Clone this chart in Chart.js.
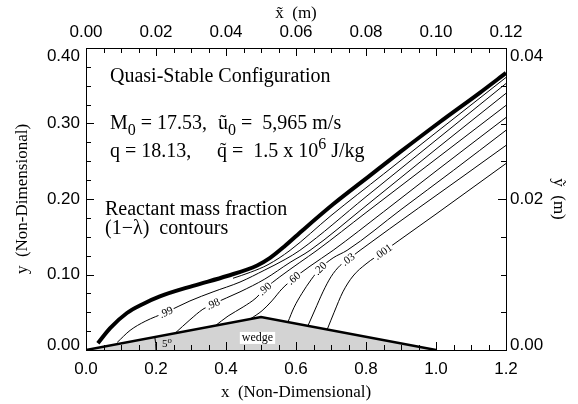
<!DOCTYPE html>
<html>
<head>
<meta charset="utf-8">
<script src="https://cdn.jsdelivr.net/npm/chart.js@4.4.0/dist/chart.umd.min.js"></script>
<style>
  html, body { margin: 0; padding: 0; background: #fff; }
</style>
</head>
<body>
<canvas id="c" width="578" height="404" style="width:578px;height:404px"></canvas>
<script>
// tick labels
const xTickLabels = ['0.0', '0.2', '0.4', '0.6', '0.8', '1.0', '1.2'];
const xTopTickLabels = ['0.00', '0.02', '0.04', '0.06', '0.08', '0.10', '0.12'];
const yTickLabels = ['0.00', '0.10', '0.20', '0.30', '0.40'];
const yRightTickLabels = ['0.00', '0.02', '0.04'];

// wedge (5 deg ramp, peak at x = 0.5)
const wedgeX = [0.0, 0.5, 1.0];
const wedgeY = [0.0, 0.0437, 0.0];

// shock (bunched contours, drawn thick)
const shockX = [0.034, 0.069, 0.117, 0.163, 0.211, 0.306, 0.403, 0.489, 0.526, 0.569, 0.620, 0.706, 0.811, 0.897, 1.011, 1.126, 1.200];
const shockY = [0.009, 0.029, 0.049, 0.061, 0.071, 0.085, 0.098, 0.112, 0.122, 0.138, 0.159, 0.193, 0.231, 0.262, 0.302, 0.341, 0.367];

// reactant mass fraction contours
const c999X = [0.420, 0.470, 0.520, 0.583, 0.700, 0.850, 1.000, 1.200];
const c999Y = [0.095, 0.103, 0.113, 0.132, 0.178, 0.233, 0.288, 0.361];
const c99X = [0.089, 0.126, 0.169, 0.229, 0.297, 0.363, 0.440, 0.511, 0.569, 0.611, 0.800, 1.000, 1.200];
const c99Y = [0.010, 0.026, 0.038, 0.050, 0.065, 0.077, 0.090, 0.106, 0.120, 0.132, 0.203, 0.278, 0.353];
const c98X = [0.254, 0.297, 0.334, 0.363, 0.440, 0.511, 0.583, 0.640, 0.800, 1.000, 1.200];
const c98Y = [0.022, 0.040, 0.054, 0.061, 0.077, 0.094, 0.116, 0.132, 0.191, 0.266, 0.340];
const c90X = [0.369, 0.406, 0.449, 0.486, 0.511, 0.554, 0.611, 0.660, 0.800, 1.000, 1.200];
const c90Y = [0.032, 0.045, 0.057, 0.069, 0.081, 0.097, 0.116, 0.132, 0.182, 0.253, 0.324];
const c60X = [0.469, 0.503, 0.531, 0.560, 0.594, 0.640, 0.706, 0.850, 1.000, 1.200];
const c60Y = [0.041, 0.052, 0.065, 0.081, 0.095, 0.111, 0.132, 0.183, 0.237, 0.308];
const c20X = [0.577, 0.594, 0.617, 0.643, 0.669, 0.706, 0.746, 0.900, 1.050, 1.200];
const c20Y = [0.037, 0.056, 0.075, 0.093, 0.108, 0.122, 0.132, 0.186, 0.238, 0.291];
const c03X = [0.634, 0.654, 0.677, 0.700, 0.726, 0.749, 0.783, 0.950, 1.080, 1.200];
const c03Y = [0.032, 0.053, 0.077, 0.097, 0.112, 0.120, 0.132, 0.188, 0.231, 0.271];
const c001X = [0.689, 0.709, 0.734, 0.763, 0.800, 0.849, 0.897, 1.000, 1.200];
const c001Y = [0.027, 0.050, 0.077, 0.098, 0.114, 0.130, 0.146, 0.180, 0.247];

// contour labels
const levelText = ['.99', '.98', '.90', '.60', '.20', '.03', '.001'];
const levelX = [0.229, 0.363, 0.511, 0.594, 0.669, 0.749, 0.849];
const levelY = [0.050, 0.061, 0.081, 0.095, 0.108, 0.120, 0.130];
const wedgeLabelPos = [0.49, 0.016];

const sans = "'Liberation Sans', Arial, sans-serif";
const serif = "'Liberation Serif', 'Times New Roman', serif";

function pts(xs, ys) {
  return xs.map((x, i) => ({ x: x, y: ys[i] }));
}

function line(xs, ys, w) {
  return {
    data: pts(xs, ys),
    borderColor: '#000',
    borderWidth: w,
    pointRadius: 0,
    fill: false,
    cubicInterpolationMode: 'monotone'
  };
}

const levelLines = [pts(c99X, c99Y), pts(c98X, c98Y), pts(c90X, c90Y), pts(c60X, c60Y),
                    pts(c20X, c20Y), pts(c03X, c03Y), pts(c001X, c001Y)];

// text with sub/superscripts, baseline at y
function rich(ctx, x, y, parts, size) {
  parts.forEach(p => {
    const s = p[1] ? size * 0.8 : size;
    const dy = p[1] === 'sub' ? size * 0.28 : (p[1] === 'sup' ? -size * 0.4 : 0);
    ctx.font = s + 'px ' + serif;
    ctx.fillText(p[0], x, y + dy);
    x += ctx.measureText(p[0]).width;
  });
}

const decor = {
  id: 'decor',
  afterDraw(chart) {
    const ctx = chart.ctx, a = chart.chartArea;
    const xs = chart.scales.x, xt = chart.scales.xTop, ys = chart.scales.y, yr = chart.scales.yRight;
    ctx.save();
    ctx.strokeStyle = '#000';
    ctx.lineWidth = 1;

    // inward ticks, 4 minor intervals per major
    function ticks(scale, step, n, side) {
      ctx.beginPath();
      for (let i = 0; i <= n; i++) {
        const len = i % 4 === 0 ? 8 : 5;
        const p = Math.round(scale.getPixelForValue(scale.min + i * step)) + 0.5;
        if (side === 'bottom') { ctx.moveTo(p, a.bottom); ctx.lineTo(p, a.bottom - len); }
        if (side === 'top') { ctx.moveTo(p, a.top); ctx.lineTo(p, a.top + len); }
        if (side === 'left') { ctx.moveTo(a.left, p); ctx.lineTo(a.left + len, p); }
        if (side === 'right') { ctx.moveTo(a.right, p); ctx.lineTo(a.right - len, p); }
      }
      ctx.stroke();
    }
    ticks(xs, 0.05, 24, 'bottom');
    ticks(xt, 0.005, 24, 'top');
    ticks(ys, 0.025, 16, 'left');
    ticks(yr, 0.005, 8, 'right');

    // y tick labels, kept inside the axis span like the original
    ctx.fillStyle = '#000';
    ctx.font = '17px ' + sans;
    ctx.textBaseline = 'middle';
    ctx.textAlign = 'right';
    yTickLabels.forEach(t => {
      const p = Math.min(Math.max(ys.getPixelForValue(parseFloat(t)), a.top + 8), a.bottom - 5);
      ctx.fillText(t, a.left - 6, p);
    });
    ctx.textAlign = 'left';
    yRightTickLabels.forEach(t => {
      const p = Math.min(Math.max(yr.getPixelForValue(parseFloat(t)), a.top + 8), a.bottom - 5);
      ctx.fillText(t, a.right + 4, p);
    });

    // contour labels along the lines
    ctx.font = '11px ' + serif;
    ctx.textAlign = 'center';
    levelText.forEach((t, i) => {
      const d = levelLines[i];
      let k = 0;
      d.forEach((p, j) => { if (Math.abs(p.x - levelX[i]) < Math.abs(d[k].x - levelX[i])) k = j; });
      const p0 = d[Math.max(k - 1, 0)], p1 = d[Math.min(k + 1, d.length - 1)];
      const ang = Math.atan2(ys.getPixelForValue(p1.y) - ys.getPixelForValue(p0.y),
                             xs.getPixelForValue(p1.x) - xs.getPixelForValue(p0.x));
      const w = ctx.measureText(t).width;
      ctx.save();
      ctx.translate(xs.getPixelForValue(levelX[i]), ys.getPixelForValue(levelY[i]));
      ctx.rotate(ang);
      ctx.fillStyle = '#fff';
      ctx.fillRect(-w / 2 - 1.5, -4.5, w + 3, 9);
      ctx.fillStyle = '#000';
      ctx.fillText(t, 0, 0.5);
      ctx.restore();
    });

    // wedge label
    ctx.font = '12px ' + serif;
    const wx = xs.getPixelForValue(wedgeLabelPos[0]), wy = ys.getPixelForValue(wedgeLabelPos[1]);
    const ww = ctx.measureText('wedge').width;
    ctx.fillStyle = '#fff';
    ctx.fillRect(wx - ww / 2 - 2, wy - 6, ww + 4, 12);
    ctx.fillStyle = '#000';
    ctx.fillText('wedge', wx, wy);

    // 5 degree arc
    const ox = xs.getPixelForValue(0), oy = ys.getPixelForValue(0);
    const r = xs.getPixelForValue(0.2) - ox;
    const ang = Math.atan2(oy - ys.getPixelForValue(wedgeY[1]), xs.getPixelForValue(wedgeX[1]) - ox);
    ctx.beginPath();
    ctx.arc(ox, oy, r, -ang, 0);
    ctx.stroke();
    ctx.textAlign = 'left';
    ctx.textBaseline = 'alphabetic';
    rich(ctx, ox + r + 6, oy - 3, [['5'], ['o', 'sup']], 11);

    // annotation block
    rich(ctx, 110, 82, [['Quasi-Stable Configuration']], 20);
    rich(ctx, 110, 129, [['M'], ['0', 'sub'], [' = 17.53,']], 20);
    rich(ctx, 218, 129, [['\u0169'], ['0', 'sub'], [' =  5,965 m/s']], 20);
    rich(ctx, 110, 157, [['q = 18.13,']], 20);
    rich(ctx, 217, 157, [['q\u0303 =  1.5 x 10'], ['6', 'sup'], [' J/kg']], 20);
    rich(ctx, 105, 215, [['Reactant mass fraction']], 20);
    rich(ctx, 105, 234, [['(1\u2212\u03bb)  contours']], 20);
    ctx.restore();
  }
};

const axisTitleFont = { family: serif, size: 17 };
const tickFontOpt = { family: sans, size: 17 };

new Chart(document.getElementById('c'), {
  type: 'line',
  data: {
    datasets: [
      {
        data: pts(wedgeX, wedgeY),
        borderColor: '#000',
        borderWidth: 2.5,
        backgroundColor: '#d3d3d3',
        pointRadius: 0,
        fill: 'origin',
        tension: 0
      },
      line(shockX, shockY, 4),
      line(c999X, c999Y, 1),
      line(c99X, c99Y, 1),
      line(c98X, c98Y, 1),
      line(c90X, c90Y, 1),
      line(c60X, c60Y, 1),
      line(c20X, c20Y, 1),
      line(c03X, c03Y, 1),
      line(c001X, c001Y, 1)
    ]
  },
  options: {
    responsive: false,
    animation: false,
    plugins: { legend: { display: false }, tooltip: { enabled: false } },
    layout: { padding: 0 },
    scales: {
      x: {
        type: 'linear', position: 'bottom', min: 0, max: 1.2,
        afterFit: s => { s.height = 54; },
        afterBuildTicks: s => { s.ticks = xTickLabels.map(t => ({ value: parseFloat(t) })); },
        ticks: { callback: (v, i) => xTickLabels[i], font: tickFontOpt, color: '#000', padding: 3, maxRotation: 0, autoSkip: false },
        grid: { display: false, tickLength: 6 },
        border: { display: true, color: '#000', width: 1 },
        title: { display: true, text: 'x  (Non-Dimensional)', font: axisTitleFont, color: '#000', padding: { top: 0, bottom: 1 } }
      },
      xTop: {
        type: 'linear', position: 'top', min: 0, max: 0.12,
        afterFit: s => { s.height = 48; },
        afterBuildTicks: s => { s.ticks = xTopTickLabels.map(t => ({ value: parseFloat(t) })); },
        ticks: { callback: (v, i) => xTopTickLabels[i], font: tickFontOpt, color: '#000', padding: 2, maxRotation: 0, autoSkip: false },
        grid: { display: false, tickLength: 3 },
        border: { display: true, color: '#000', width: 1 },
        title: { display: true, text: 'x\u0303  (m)', font: axisTitleFont, color: '#000', padding: { top: 3, bottom: 0 } }
      },
      y: {
        type: 'linear', position: 'left', min: 0, max: 0.4,
        afterFit: s => { s.width = 86; },
        ticks: { display: false },
        grid: { display: false },
        border: { display: true, color: '#000', width: 1 },
        title: { display: true, text: 'y  (Non-Dimensional)', font: axisTitleFont, color: '#000', padding: { top: 12, bottom: 0 } }
      },
      yRight: {
        type: 'linear', position: 'right', min: 0, max: 0.04,
        afterFit: s => { s.width = 72; },
        ticks: { display: false },
        grid: { display: false },
        border: { display: true, color: '#000', width: 1 },
        title: { display: true, text: '\u1ef9  (m)', font: axisTitleFont, color: '#000', padding: { top: 9, bottom: 0 } }
      }
    }
  },
  plugins: [decor]
});
</script>
</body>
</html>
